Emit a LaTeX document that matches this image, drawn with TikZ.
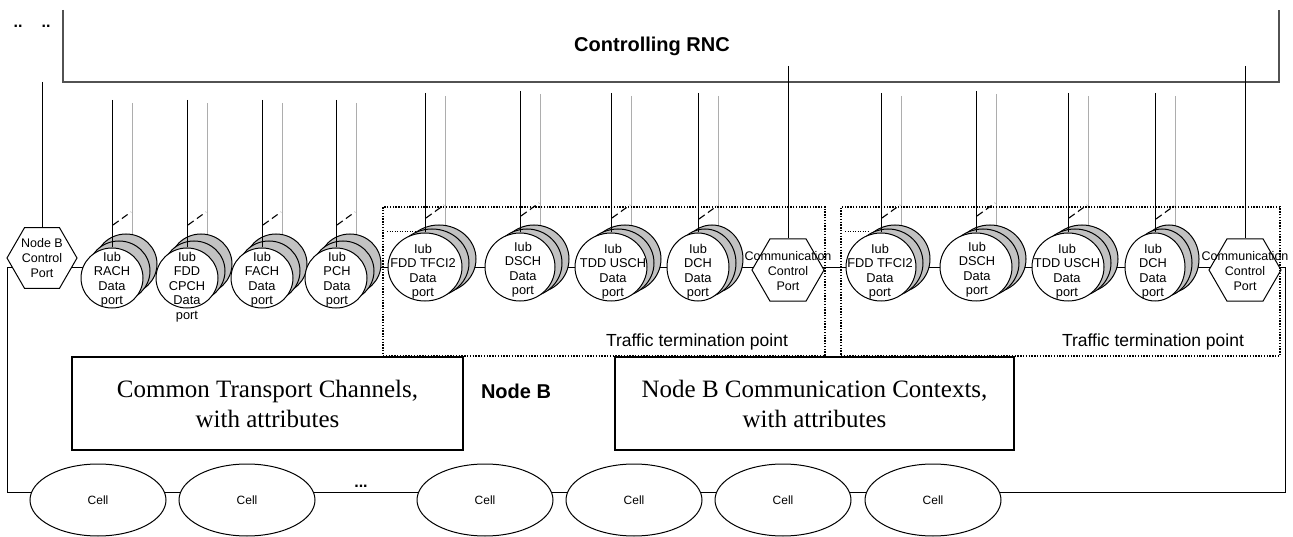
\documentclass[tikz,border=0pt]{standalone}
\usepackage{fontspec}
\setmainfont{Liberation Serif}
\setsansfont{Liberation Sans}
\usetikzlibrary{shapes.geometric,backgrounds}

\tikzset{
  wire/.style={line width=1pt, draw=black},
  rncline/.style={line width=1.6pt, draw=black!68},
  feed/.style={line width=1pt, draw=black!32},
  slashmark/.style={line width=1.1pt, draw=black, dash pattern=on 7pt off 4pt},
  portfront/.style={ellipse, draw=black, line width=1pt, fill=white, inner sep=0pt},
  portback/.style={ellipse, draw=black, line width=1pt, fill=black!24, inner sep=0pt},
  portlabel/.style={font=\sffamily\fontsize{12.8}{14.5}\selectfont, align=center, inner sep=0pt, anchor=north},
  hexport/.style={regular polygon, regular polygon sides=6, draw=black, line width=1pt, fill=white, inner sep=0pt},
  hexlabel/.style={font=\sffamily\fontsize{12.5}{15}\selectfont, align=center, inner sep=0pt},
  tframe/.style={draw=black, line width=1.4pt, dash pattern=on 1.4pt off 1.4pt, inner sep=0pt},
  ttplabel/.style={font=\sffamily\fontsize{17.5}{20}\selectfont, inner sep=0pt},
  bigbox/.style={draw=black, line width=1.2pt, fill=white, align=center, inner sep=0pt, font=\rmfamily\fontsize{25}{30}\selectfont},
  boldlabel/.style={font=\sffamily\bfseries\fontsize{20}{24}\selectfont, inner sep=0pt},
  dotmark/.style={font=\sffamily\bfseries\fontsize{16}{16}\selectfont, inner sep=0pt},
  cell/.style={ellipse, draw=black, line width=1pt, fill=white, inner sep=0pt, minimum width=136pt, minimum height=72pt, font=\sffamily\fontsize{12}{14}\selectfont},
  shortdots/.style={line width=1pt, dash pattern=on 1pt off 1.5pt},
}

% A stacked data port: #1 name, #2 centre x, #3 centre y, #4 x radius, #5 y radius,
% #6 vertical step between the stacked ellipses, #7 top of the feed lines, #8 start height of the slash mark
\newcommand\portstack[8]{%
  \node[portback, minimum width={2*#4}, minimum height={2*#5}] (#1-b2) at ({#2+14},{#3-2*#6}) {};
  \node[portback, minimum width={2*#4}, minimum height={2*#5}] (#1-b1) at ({#2+7},{#3-#6}) {};
  \node[portfront, minimum width={2*#4}, minimum height={2*#5}] (#1) at (#2,#3) {};
  \coordinate (#1-top) at (#2,#7);
  \coordinate (#1-gtop) at ({#2+20},{#7+3});
  \coordinate (#1-s1) at ({#2+1},#8);
  \coordinate (#1-s2) at ({#2+19},{#8-13});
  \draw[wire] (#1-top) -- (#1.north);
  \draw[slashmark] (#1-s1) -- (#1-s2);
  \begin{scope}[on background layer]
    \draw[feed] (#1-gtop) -- (#1-gtop |- #1-b2.center);
  \end{scope}
}

\begin{document}
\begin{tikzpicture}[x=1pt,y=-1pt]
\useasboundingbox (0,0) rectangle (1293,537);

% Controlling RNC
\draw[rncline] (63,10) -- (63,82) -- (1279,82) -- (1279,10);
\node[boldlabel] (rnc) at (652,46) {Controlling RNC};
\node[dotmark] (dotsa) at (18,26) {..};
\node[dotmark] (dotsb) at (46,26) {..};

% common transport channel ports
\portstack{rach}{112}{278}{31}{30}{7}{100}{225}
\portstack{cpch}{187}{278}{31}{30}{7}{100}{225}
\portstack{fach}{262}{278}{31}{30}{7}{100}{225}
\portstack{pch}{336}{278}{31}{30}{7}{100}{225}
\node[portlabel] (rach-t) at (112,252) {Iub\\RACH\\Data\\port};
\node[portlabel] (cpch-t) at (187,252) {Iub\\FDD\\CPCH\\Data\\port};
\node[portlabel] (fach-t) at (262,252) {Iub\\FACH\\Data\\port};
\node[portlabel] (pch-t) at (337,252) {Iub\\PCH\\Data\\port};

% first traffic termination point
\portstack{tfcia}{425}{267}{37}{34}{4}{93}{218}
\portstack{dscha}{520}{267}{35}{34}{4}{91}{216}
\portstack{uscha}{611}{267}{36}{34}{4}{93}{218}
\portstack{dcha}{698}{267}{31}{34}{4}{93}{219}
\node[portlabel] (tfcia-t) at (423,244) {Iub\\FDD TFCI2\\Data\\port};
\node[portlabel] (dscha-t) at (523,242) {Iub\\DSCH\\Data\\port};
\node[portlabel] (uscha-t) at (613,244) {Iub\\TDD USCH\\Data\\port};
\node[portlabel] (dcha-t) at (698,244) {Iub\\DCH\\Data\\port};

% second traffic termination point
\portstack{tfcib}{881}{267}{35}{34}{4}{93}{218}
\portstack{dschb}{976}{267}{36}{34}{4}{91}{216}
\portstack{uschb}{1068}{267}{36}{34}{4}{93}{218}
\portstack{dchb}{1155}{267}{30}{34}{4}{93}{219}
\node[portlabel] (tfcib-t) at (880,244) {Iub\\FDD TFCI2\\Data\\port};
\node[portlabel] (dschb-t) at (977,242) {Iub\\DSCH\\Data\\port};
\node[portlabel] (uschb-t) at (1067,244) {Iub\\TDD USCH\\Data\\port};
\node[portlabel] (dchb-t) at (1153,244) {Iub\\DCH\\Data\\port};

% control ports
\node[hexport, minimum size=70pt] (ncp) at (42,258) {};
\node[hexlabel] (ncp-t) at (42,258) {Node B\\Control\\Port};
\node[hexport, minimum size=72pt] (ccpa) at (788,270) {};
\node[hexlabel] (ccpa-t) at (788,271) {Communication\\Control\\Port};
\node[hexport, minimum size=72pt] (ccpb) at (1245,270) {};
\node[hexlabel] (ccpb-t) at (1245,271) {Communication\\Control\\Port};

\coordinate (ncp-top) at (42,82);
\coordinate (ccpa-top) at (788,66);
\coordinate (ccpb-top) at (1245,66);
\draw[wire] (ncp-top) -- (ncp.north);
\draw[wire] (ccpa-top) -- (ccpa.north);
\draw[wire] (ccpb-top) -- (ccpb.north);

% traffic termination point frames
\node[tframe, minimum width=442pt, minimum height=149pt] (ttpa) at (604,281.5) {};
\node[tframe, minimum width=439pt, minimum height=149pt] (ttpb) at (1060.5,281.5) {};
\node[ttplabel] (ttpa-t) at (697,342) {Traffic termination point};
\node[ttplabel] (ttpb-t) at (1153,342) {Traffic termination point};
\coordinate (da1) at (387,232); \coordinate (da2) at (415,232);
\coordinate (db1) at (845,232); \coordinate (db2) at (870,232);
\draw[shortdots] (da1) -- (da2);
\draw[shortdots] (db1) -- (db2);

% attribute boxes
\node[bigbox, minimum width=391pt, minimum height=93pt] (ctc) at (267.5,403.5) {Common Transport Channels,\\with attributes};
\node[bigbox, minimum width=399pt, minimum height=93pt] (nbcc) at (814.5,403.5) {Node B Communication Contexts,\\with attributes};
\node[boldlabel] (nodeb) at (516,391) {Node B};

% cells
\node[cell] (c1) at (98,500) {Cell};
\node[cell] (c2) at (247,500) {Cell};
\node[cell] (c3) at (485,500) {Cell};
\node[cell] (c4) at (634,500) {Cell};
\node[cell] (c5) at (783,500) {Cell};
\node[cell] (c6) at (933,500) {Cell};
\node[dotmark] (celldots) at (361,486) {...};

% bus connectors, kept behind the port shapes
\coordinate (bus) at (0,268);
\coordinate (lowl) at (7,492);
\coordinate (lowr) at (1285,492);
\begin{scope}[on background layer]
  \draw[wire] (ncp |- bus) -- (rach |- bus);
  \draw[wire] (pch |- bus) -- (tfcia |- bus);
  \draw[wire] (tfcia |- bus) -- (dscha |- bus);
  \draw[wire] (dscha |- bus) -- (uscha |- bus);
  \draw[wire] (uscha |- bus) -- (dcha |- bus);
  \draw[wire] (dcha |- bus) -- (ccpa |- bus);
  \draw[wire] (ccpa |- bus) -- (tfcib |- bus);
  \draw[wire] (tfcib |- bus) -- (dschb |- bus);
  \draw[wire] (dschb |- bus) -- (uschb |- bus);
  \draw[wire] (uschb |- bus) -- (dchb |- bus);
  \draw[wire] (dchb |- bus) -- (ccpb |- bus);
  \draw[wire] (ncp |- bus) -| (lowl) -- (lowr) |- (ccpb |- bus);
\end{scope}
\end{tikzpicture}
\end{document}
